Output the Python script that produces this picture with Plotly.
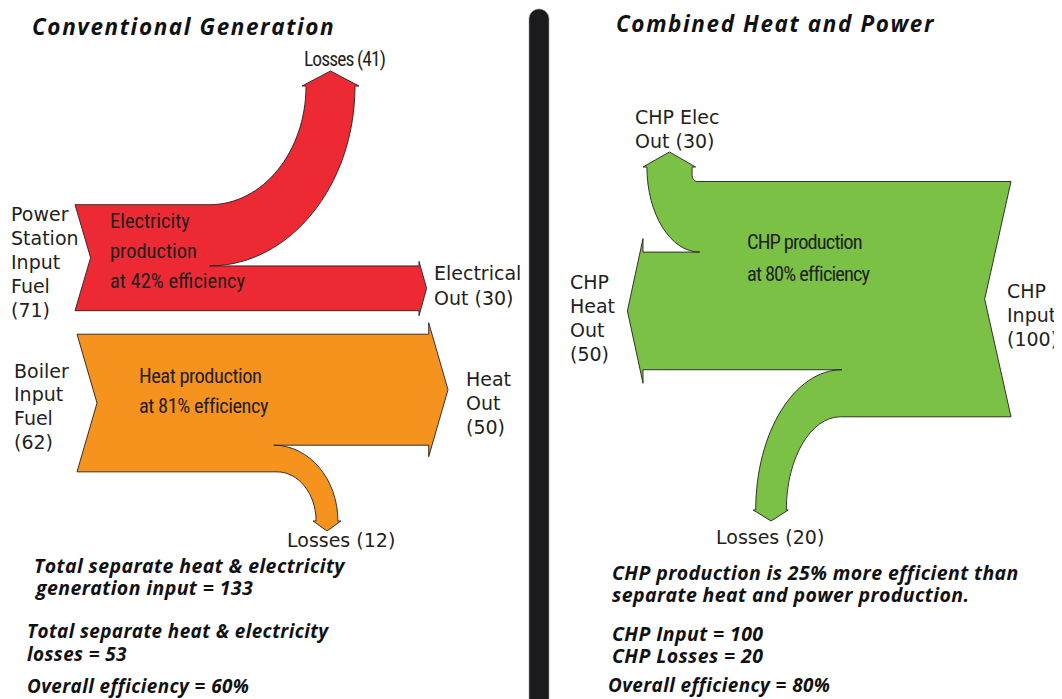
import plotly.graph_objects as go

# ---------------- data (energy units) ----------------
conv_elec_names = ["Power Station Input Fuel", "Electrical Out", "Losses"]
conv_elec_values = [71, 30, 41]
conv_heat_names = ["Boiler Input Fuel", "Heat Out", "Losses"]
conv_heat_values = [62, 50, 12]
chp_names = ["CHP Input", "CHP Elec Out", "CHP Heat Out", "Losses"]
chp_values = [100, 30, 50, 20]

# ---------------- derived figures ----------------
elec_eff = round(100 * conv_elec_values[1] / conv_elec_values[0])
heat_eff = round(100 * conv_heat_values[1] / conv_heat_values[0])
chp_eff = round(100 * (chp_values[1] + chp_values[2]) / chp_values[0])
sep_input = conv_elec_values[0] + conv_heat_values[0]
sep_losses = conv_elec_values[2] + conv_heat_values[2]
sep_eff = round(100 * (conv_elec_values[1] + conv_heat_values[1]) / sep_input)
chp_gain = round(100 * (1 - chp_values[0] / sep_input))

# ---------------- styles / layout constants ----------------
RED, ORANGE, GREEN = "#ED2A33", "#F6931F", "#7BC146"
EDGE = "#231F20"
TXT = "#231F20"
K = 0.5523

W, H = 1062, 699
OFF = 8  # page body margin: keep axis units equal to window pixels


def curve(x0, y0, x1, y1, start):
    """quarter-ellipse cubic from (x0,y0) to (x1,y1); start tangent 'h' or 'v'"""
    if start == "h":
        c1 = (x0 + K * (x1 - x0), y0)
        c2 = (x1, y1 - K * (y1 - y0))
    else:
        c1 = (x0, y0 + K * (y1 - y0))
        c2 = (x1 - K * (x1 - x0), y1)
    return f" C {c1[0]:.2f},{c1[1]:.2f} {c2[0]:.2f},{c2[1]:.2f} {x1:.2f},{y1:.2f}"


def P(x, y, cmd="L"):
    return f" {cmd} {x:.2f},{y:.2f}"


shapes = []

# ---- Electricity production (red) ----
inp, out, loss = conv_elec_values
s = 1.493                     # px per unit
x0, ytop, notch = 75.0, 204.7, 15.6
xj = 209.6
ybot = ytop + inp * s
yloss = ytop + loss * s
lw = loss * s * 0.8           # tapered width at arrow
lcx, lay = 330.5, 86.0        # loss arrow centre x / base y
oxb, otip = 419.0, 7.6
ocy = (yloss + ybot) / 2
path = P(x0, ytop, "M") + P(xj, ytop)
path += curve(xj, ytop, lcx - lw / 2, lay, "h")
path += P(lcx - lw / 2 - 4, lay) + P(lcx, lay - 15) + P(lcx + lw / 2 + 4, lay) + P(lcx + lw / 2, lay)
path += curve(lcx + lw / 2, lay, xj, yloss, "v")
path += P(oxb, yloss) + P(oxb, yloss - 4.5) + P(oxb + otip, ocy) + P(oxb, ybot + 5) + P(oxb, ybot)
path += P(x0, ybot) + P(x0 + notch, (ytop + ybot) / 2) + " Z"
shapes.append(dict(type="path", path=path, fillcolor=RED, line=dict(color=EDGE, width=0.9)))

# ---- Heat production (orange) ----
inp, out, loss = conv_heat_values
s = 2.22
x0, ytop, notch = 77.0, 334.2, 20.0
ybot = ytop + inp * s
yout = ytop + out * s
oxb, otip, obarb = 428.7, 19.3, 11.5
ocy = (ytop + yout) / 2
xj_r, xj_l = 273.8, 277.0
lw = loss * s * 0.82
lcx, lay = 327.0, 521.0
path = P(x0, ytop, "M") + P(oxb, ytop) + P(oxb, ytop - obarb) + P(oxb + otip, ocy)
path += P(oxb, yout + obarb) + P(oxb, yout) + P(xj_r, yout)
path += curve(xj_r, yout, lcx + lw / 2, lay, "h")
path += P(lcx + lw / 2 + 3, lay) + P(lcx, lay + 10) + P(lcx - lw / 2 - 3, lay) + P(lcx - lw / 2, lay)
path += curve(lcx - lw / 2, lay, xj_l, ybot, "v")
path += P(x0, ybot) + P(x0 + notch, (ytop + ybot) / 2) + " Z"
shapes.append(dict(type="path", path=path, fillcolor=ORANGE, line=dict(color=EDGE, width=0.9)))

# ---- CHP production (green) ----
inp, eout, hout, loss = chp_values
s = 2.353
x0, ytop, notch = 1011.0, 181.5, 26.3
ybot = ytop + inp * s
ye = ytop + eout * s
yh = ye + hout * s
ew = eout * s * 0.64
ecx, eay = 669.5, 167.0
hx, htip, hbarb = 643.0, 15.6, 13.5
hcy = (ye + yh) / 2
lw = loss * s * 0.65
lcx, lay = 771.0, 510.0
xj_l, xj_r = 842.0, 840.5
path = P(x0, ytop, "M") + P(ecx + ew / 2 + 5, ytop)
path += curve(ecx + ew / 2 + 5, ytop, ecx + ew / 2, ytop - 7, "h")
path += P(ecx + ew / 2, eay) + P(ecx + ew / 2 + 3.5, eay) + P(ecx, eay - 15)
path += P(ecx - ew / 2 - 4, eay) + P(ecx - ew / 2, eay)
path += curve(ecx - ew / 2, eay, 699.7, ye, "v")
path += P(hx, ye) + P(hx, ye - hbarb) + P(hx - htip, hcy) + P(hx, yh + hbarb) + P(hx, yh)
path += P(xj_l, yh)
path += curve(xj_l, yh, lcx - lw / 2, lay, "h")
path += P(lcx - lw / 2 - 2.5, lay) + P(lcx, lay + 11) + P(lcx + lw / 2 + 2, lay) + P(lcx + lw / 2, lay)
path += curve(lcx + lw / 2, lay, xj_r, ybot, "v")
path += P(x0, ybot) + P(x0 - notch, (ytop + ybot) / 2) + " Z"
shapes.append(dict(type="path", path=path, fillcolor=GREEN, line=dict(color=EDGE, width=0.9)))

# ---- separator bar ----
shapes.append(dict(
    type="path",
    path="M 529,720 L 529,19 C 529,13.48 533.48,9 539,9 C 544.52,9 549,13.48 549,19 L 549,720 Z",
    fillcolor="#1B1A1C", line=dict(color="#9a9a9a", width=0.6)))

# ---------------- text ----------------
ann = []
REG = "DejaVu Sans"
NAR = "Roboto Condensed, Liberation Sans Narrow, DejaVu Sans Condensed, sans-serif"
BI = "Open Sans"


def txt(x, y, t, family, size, bold=False, italic=False, color=TXT, ls=None):
    if ls is not None:
        t = f'<span style="letter-spacing:{ls}px">{t}</span>'
    ann.append(dict(x=x, y=y, xref="x", yref="y", text=t, showarrow=False,
                    xanchor="left", yanchor="middle",
                    font=dict(family=family, size=size, color=color,
                              weight="bold" if bold else "normal",
                              style="italic" if italic else "normal")))


# titles
txt(30, 26, "Conventional Generation", BI, 22.5, True, True, "#111", 1.6)
txt(614, 23.5, "Combined Heat and Power", BI, 22.5, True, True, "#111", 1.6)

# left panel labels
RS = 19
for i, t in enumerate(["Power", "Station", "Input", "Fuel", f"({conv_elec_values[0]})"]):
    txt(9, 213.8 + i * 24.1, t, REG, RS)
txt(432, 273, "Electrical", REG, RS)
txt(432, 298, f"Out ({conv_elec_values[1]})", REG, RS)
txt(302, 59, f"Losses ({conv_elec_values[2]})", NAR, 19.5, ls=-0.9)
for i, t in enumerate(["Boiler", "Input", "Fuel", f"({conv_heat_values[0]})"]):
    txt(12, 370.7 + i * 23.7, t, REG, RS)
for i, t in enumerate(["Heat", "Out", f"({conv_heat_values[1]})"]):
    txt(464, 379 + i * 24.2, t, REG, RS)
txt(285, 539.5, f"Losses ({conv_heat_values[2]})", REG, RS)

# inner labels
for i, t in enumerate(["Electricity", "production", f"at {elec_eff}% efficiency"]):
    txt(108, 220.6 + i * 30.4, t, NAR, 20.5)
for i, t in enumerate(["Heat production", f"at {heat_eff}% efficiency"]):
    txt(136.5, 375.8 + i * 30.4, t, NAR, 20.5, ls=-0.5)
for i, t in enumerate(["CHP production", f"at {chp_eff}% efficiency"]):
    txt(744.5, 242 + i * 32.3, t, NAR, 20.5, ls=-0.9)

# right panel labels
txt(633, 117, "CHP Elec", REG, RS)
txt(633, 140.8, f"Out ({chp_values[1]})", REG, RS)
for i, t in enumerate(["CHP", "Heat", "Out", f"({chp_values[2]})"]):
    txt(568, 282 + i * 24, t, REG, RS)
for i, t in enumerate(["CHP", "Input", f"({chp_values[0]})"]):
    txt(1005, 291.3 + i * 24, t, REG, RS)
txt(714, 536.6, f"Losses ({chp_values[3]})", REG, RS)

# bottom summaries
BIS = 19.5
txt(32, 565.4, "Total separate heat &amp; electricity", BI, BIS, True, True, "#111", 0.4)
txt(32, 587.3, f"generation input = {sep_input}", BI, BIS, True, True, "#111", 0.4)
txt(25, 631.3, "Total separate heat &amp; electricity", BI, BIS - 0.6, True, True, "#111", 0.4)
txt(25, 654, f"losses = {sep_losses}", BI, BIS - 0.6, True, True, "#111", 0.4)
txt(25, 686, f"Overall efficiency = {sep_eff}%", BI, BIS - 0.6, True, True, "#111", 0.4)

txt(609.5, 572.2, f"CHP production is {chp_gain}% more efficient than", BI, BIS, True, True, "#111", 0.4)
txt(609.5, 594.3, "separate heat and power production.", BI, BIS, True, True, "#111", 0.4)
txt(609.5, 633.3, f"CHP Input = {chp_values[0]}", BI, BIS, True, True, "#111", 0.4)
txt(609.5, 655.4, f"CHP Losses = {chp_values[3]}", BI, BIS, True, True, "#111", 0.4)
txt(605.5, 685, f"Overall efficiency = {chp_eff}%", BI, BIS - 0.6, True, True, "#111", 0.4)

fig = go.Figure()
fig.update_layout(
    width=W, height=H,
    margin=dict(l=0, r=0, t=0, b=0),
    paper_bgcolor="white", plot_bgcolor="white",
    xaxis=dict(range=[OFF, W + OFF], visible=False, fixedrange=True),
    yaxis=dict(range=[H + OFF, OFF], visible=False, fixedrange=True),
    shapes=shapes, annotations=ann, showlegend=False,
)
fig.write_html("out.html")
